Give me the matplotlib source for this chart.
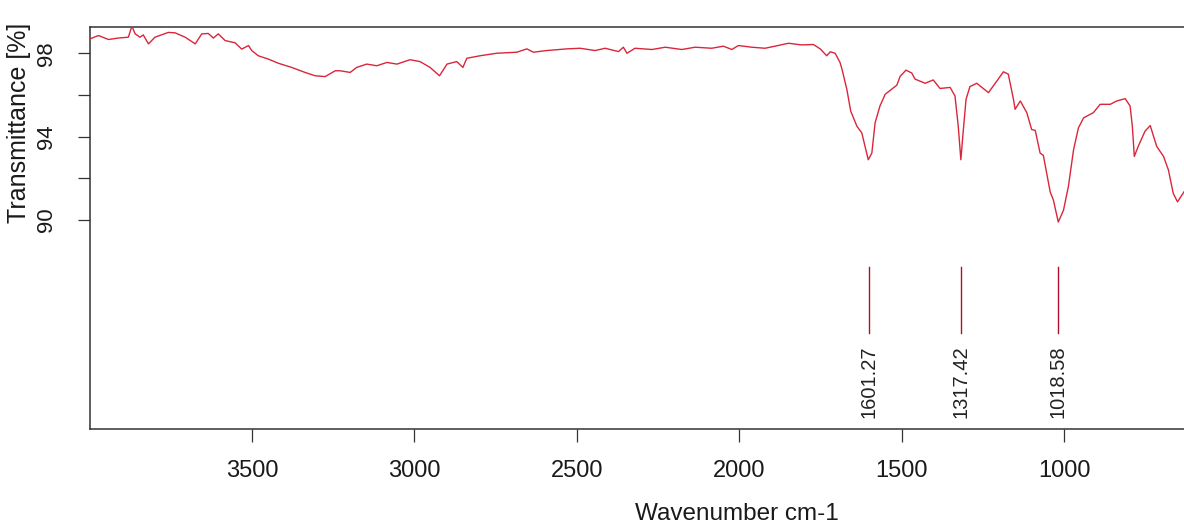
import matplotlib
matplotlib.use("Agg")
import matplotlib.pyplot as plt
import numpy as np

# IR spectrum (wavenumber cm-1, transmittance %)
wavenumber = [3999, 3973, 3942, 3912, 3881, 3870, 3860, 3845, 3835, 3819,
              3799, 3758, 3737, 3706, 3675, 3655, 3635, 3619, 3604, 3583,
              3552, 3532, 3511, 3501, 3481, 3450, 3419, 3378, 3337, 3306,
              3275, 3244, 3229, 3198, 3178, 3147, 3116, 3085, 3054, 3014,
              2983, 2952, 2923, 2900, 2870, 2851, 2839, 2798, 2747, 2685,
              2654, 2634, 2593, 2531, 2490, 2444, 2413, 2372, 2357, 2346,
              2321, 2269, 2228, 2177, 2136, 2085, 2049, 2023, 2003, 1962,
              1921, 1890, 1849, 1808, 1772, 1751, 1731, 1720, 1705, 1690,
              1684, 1669, 1657, 1638, 1623, 1603, 1592, 1582, 1567, 1551,
              1515, 1505, 1487, 1469, 1459, 1428, 1403, 1382, 1351, 1336,
              1326, 1318, 1311, 1302, 1290, 1269, 1233, 1207, 1187, 1172,
              1156, 1151, 1135, 1115, 1100, 1089, 1074, 1064, 1043, 1033,
              1018, 1002, 987, 971, 956, 940, 910, 889, 858, 838,
              812, 797, 790, 784, 772, 751, 735, 715, 694, 679,
              664, 651, 631]
transmittance = [98.69, 98.85, 98.66, 98.73, 98.77, 99.30, 98.93, 98.77, 98.88, 98.45,
                 98.77, 99.00, 98.98, 98.77, 98.45, 98.93, 98.95, 98.73, 98.93, 98.61,
                 98.50, 98.20, 98.37, 98.13, 97.88, 97.72, 97.52, 97.32, 97.08, 96.92,
                 96.88, 97.16, 97.16, 97.08, 97.32, 97.48, 97.40, 97.56, 97.48, 97.69,
                 97.60, 97.32, 96.92, 97.48, 97.60, 97.32, 97.76, 97.88, 98.00, 98.05,
                 98.21, 98.05, 98.13, 98.21, 98.24, 98.13, 98.24, 98.08, 98.29, 98.00,
                 98.24, 98.18, 98.29, 98.18, 98.29, 98.24, 98.34, 98.18, 98.37, 98.29,
                 98.24, 98.34, 98.48, 98.40, 98.42, 98.21, 97.88, 98.07, 98.00, 97.56,
                 97.24, 96.27, 95.22, 94.50, 94.18, 92.89, 93.21, 94.66, 95.47, 96.03,
                 96.47, 96.89, 97.19, 97.05, 96.76, 96.56, 96.72, 96.31, 96.36, 95.95,
                 94.50, 92.89, 94.20, 95.79, 96.40, 96.56, 96.11, 96.67, 97.11, 97.00,
                 95.79, 95.31, 95.71, 95.15, 94.34, 94.30, 93.21, 93.10, 91.35, 90.95,
                 89.90, 90.47, 91.60, 93.37, 94.42, 94.90, 95.15, 95.55, 95.55, 95.71,
                 95.82, 95.47, 94.50, 93.05, 93.53, 94.26, 94.53, 93.53, 93.05, 92.40,
                 91.27, 90.87, 91.35]

peak_pos = [1601.27, 1317.42, 1018.58]
peak_labels = ["1601.27", "1317.42", "1018.58"]

x_ticks = [3500, 3000, 2500, 2000, 1500, 1000]
y_ticks = [90, 92, 94, 96, 98]
y_tick_labels = ["90", "", "94", "", "98"]

FONT = ["Liberation Sans", "DejaVu Sans"]

W, H = 1184, 527
fig = plt.figure(figsize=(W / 100, H / 100), dpi=100)
ax = fig.add_axes([90 / W, 1 - 429 / H, (W - 90) / W, (429 - 27) / H])

ax.plot(wavenumber, transmittance, color="#d9263a", linewidth=1.0, zorder=3)

# peak markers with rotated labels
for pos, lab in zip(peak_pos, peak_labels):
    ax.plot([pos, pos], [84.58, 87.75], color="#b0102c", linewidth=1.0)
    ax.text(pos, 84.0, lab, rotation=90, ha="center", va="top",
            fontsize=14.5, family=FONT, color="#222222")

ax.set_xlim(3999, 631)
ax.set_ylim(79.97, 99.26)

ax.set_xticks(x_ticks)
ax.set_xticklabels([str(t) for t in x_ticks])
ax.set_yticks(y_ticks)
ax.set_yticklabels(y_tick_labels)

for s in ["left", "top", "bottom"]:
    ax.spines[s].set_linewidth(1.1)
    ax.spines[s].set_color("#333333")
ax.spines["right"].set_visible(False)

ax.tick_params(axis="x", length=9.4, width=0.9, color="#333333", pad=13)
ax.tick_params(axis="y", length=8.6, width=0.9, color="#333333", pad=15)
for t in ax.get_xticklabels():
    t.set_fontsize(17)
    t.set_family(FONT)
    t.set_color("#1a1a1a")
for t in ax.get_yticklabels():
    t.set_fontsize(16)
    t.set_rotation(90)
    t.set_va("center")
    t.set_family(FONT)
    t.set_color("#1a1a1a")

fig.text(737 / W, 1 - 514 / H, "Wavenumber cm-1", ha="center", va="center",
         fontsize=17.5, family=FONT, color="#1a1a1a")
fig.text(19 / W, 1 - 123 / H, "Transmittance [%]", rotation=90, ha="center", va="center",
         fontsize=18, family=FONT, color="#1a1a1a")

fig.savefig("out.png", dpi=100)
